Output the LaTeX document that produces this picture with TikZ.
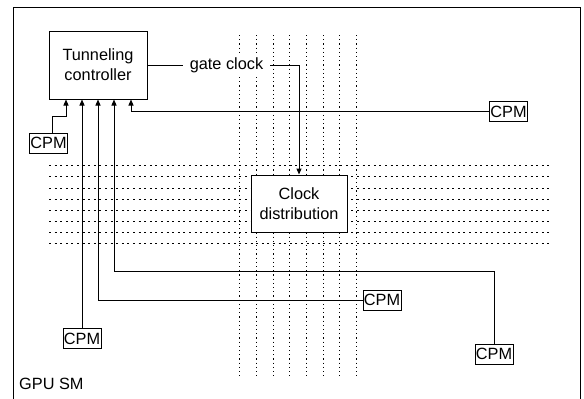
\documentclass[tikz,border=0pt]{standalone}
\usepackage{fontspec}
\setmainfont{Liberation Sans}
\usetikzlibrary{arrows.meta,calc}
\begin{document}
\begin{tikzpicture}[x=1pt,y=-1pt,
  txt/.style={font=\fontsize{16.3}{20}\selectfont},
  blk/.style={draw,line width=1pt,fill=white,align=center,inner sep=0pt,txt},
  cpm/.style={draw,line width=1pt,fill=white,inner sep=0pt,minimum width=38pt,minimum height=20pt,txt},
  wire/.style={line width=1pt},
  arr/.style={wire,-{Triangle[length=6pt,width=5pt]}},
  vgrid/.style={line width=0.9pt,dash pattern=on 1.2pt off 3pt},
  hgrid/.style={line width=0.9pt,dash pattern=on 2pt off 3.6pt}]
\useasboundingbox (0,0) rectangle (584,399);
% frame
\draw[line width=1pt] (13,399) -- (13,7) -- (580,7) -- (580,399);
% grid
\foreach \x in {239,256,273,289.5,306,323,339.5,356}
  \draw[vgrid] (\x,35) -- (\x,376);
\foreach \y in {165,176.5,188,199,210.5,221.5,232.5,243.5}
  \draw[hgrid] (49,\y) -- (551,\y);
% blocks
\node[blk,minimum width=98pt,minimum height=68pt] (tc) at (98,65) {Tunneling\\controller};
\node[blk,minimum width=96pt,minimum height=57pt] (cd) at (299,203.5) {Clock\\distribution};
\node[txt,fill=white,inner xsep=7pt,inner ysep=3pt] (gc) at (226.5,65) {gate clock};
% CPMs
\node[cpm] (c1) at (48.5,143) {CPM};
\node[cpm] (c2) at (82,338.5) {CPM};
\node[cpm] (c3) at (382,300) {CPM};
\node[cpm] (c4) at (494,354) {CPM};
\node[cpm] (c5) at (508.5,111.5) {CPM};
% connectors
\draw[wire] (tc.east) -- (gc.west);
\draw[arr] (gc.east) -| (cd.north);
\draw[arr] ([xshift=4pt]c1.north) |- ([xshift=-32pt,yshift=-17pt]tc.south) -- ([xshift=-32pt]tc.south);
\draw[arr] (c2.north) -- ([xshift=-16pt]tc.south);
\draw[arr] (c3.west) -| (tc.south);
\draw[arr] (c4.north) -- (c4.north |- 0,271) -| ([xshift=16pt]tc.south);
\draw[arr] (c5.west) -| ([xshift=33pt]tc.south);
\node[txt,anchor=west,inner sep=0pt] (gpu) at (19,384) {GPU SM};
\end{tikzpicture}
\end{document}
